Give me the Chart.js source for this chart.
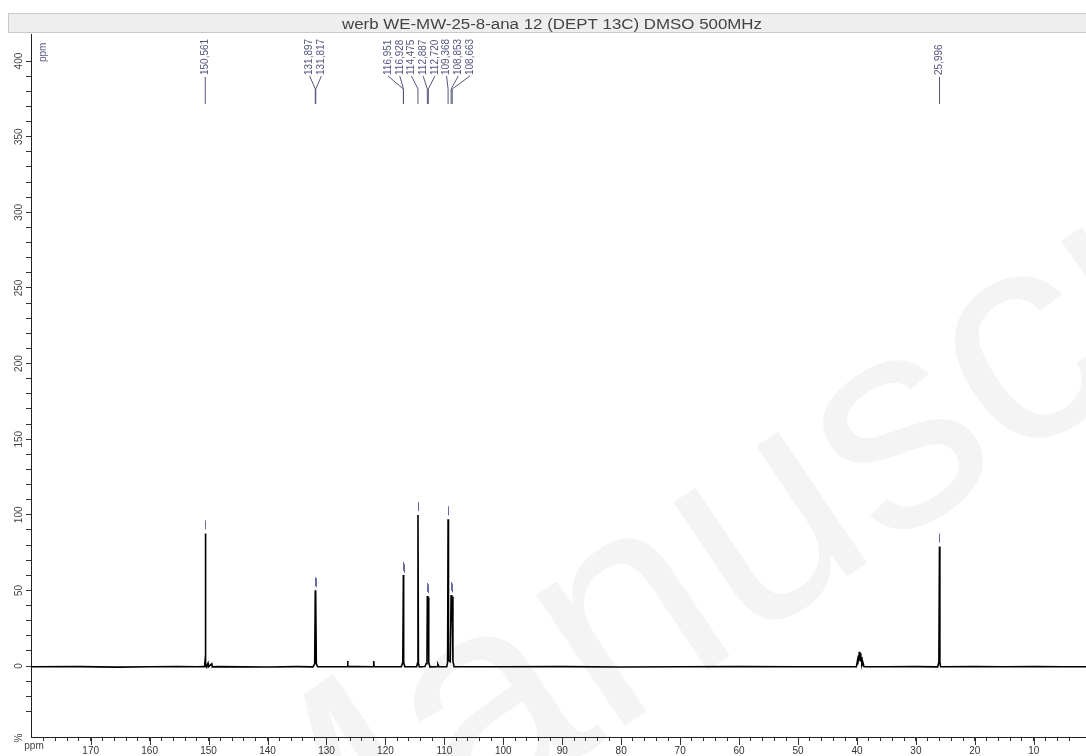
<!DOCTYPE html>
<html lang="en">
<head>
<meta charset="UTF-8">
<title>DEPT 13C spectrum</title>
<script src="https://cdn.jsdelivr.net/npm/chart.js"></script>
<style>
  html, body { margin: 0; padding: 0; background: #fff; }
  #wrap { width: 1086px; height: 756px; }
</style>
</head>
<body>
<div id="wrap"><canvas id="spec" width="1086" height="756"></canvas></div>
<script>
const titleText = "werb WE-MW-25-8-ana 12 (DEPT 13C) DMSO 500MHz";

// trace: chemical shift (ppm) and intensity (%)
const tracePpm = [
  180.13, 172.0, 165.3, 160.0, 155.2, 152.0, 151.0, 150.75, 150.65, 150.60, 150.561, 150.52, 150.45, 150.35,
  150.10, 150.02, 149.45, 149.38, 148.5, 140.0, 135.0,
  132.3, 132.0, 131.897, 131.857, 131.817, 131.72, 131.5,
  126.5, 126.42, 126.35, 125.0, 122.05, 121.98, 121.92,
  117.3, 117.05, 116.951, 116.94, 116.928, 116.85, 116.7,
  114.7, 114.55, 114.475, 114.40, 114.25, 113.3, 113.1,
  112.95, 112.887, 112.80, 112.720, 112.65, 112.45, 111.2, 111.1, 110.9,
  109.6, 109.45, 109.368, 109.30, 109.0, 108.853, 108.76, 108.663, 108.55, 108.35,
  100.0, 90.0, 80.0, 70.0, 60.0, 50.0, 40.2,
  40.10, 39.94, 39.86, 39.77, 39.69, 39.60, 39.52, 39.43, 39.35, 39.27, 39.18, 39.10, 39.02, 38.93, 38.80,
  35.0, 30.0, 26.3, 26.10, 25.996, 25.93, 25.8, 20.0, 15.0, 10.0, 5.0, 1.14
];
const traceInt = [
  -0.5, -0.4, -0.7, -0.5, -0.3, -0.5, -0.4, -0.5, 1.5, 3.5, 87.7, 3.0, 1.0, -0.5,
  1.8, -0.5, 1.5, -0.5, -0.4, -0.6, -0.4,
  -0.5, 1.5, 50.2, 30.0, 49.5, 1.5, -0.5,
  -0.5, 3.3, -0.3, -0.4, -0.5, 3.3, -0.5,
  -0.5, 2.5, 60.2, 55.0, 59.0, 2.5, -0.5,
  -0.5, 2.0, 99.8, 2.0, -0.5, -0.3, 1.5,
  2.5, 46.3, 20.0, 45.5, 2.5, -0.5, -0.4, 1.2, -0.5,
  -0.5, 2.5, 97.0, 4.0, 3.0, 47.0, 30.0, 46.0, 3.5, -0.5,
  -0.5, -0.4, -0.6, -0.5, -0.4, -0.5, -0.5,
  -0.5, 3.0, 1.0, 7.0, 3.0, 9.5, 4.0, 8.5, 3.0, 6.0, 2.0, 3.5, 1.0, 1.5, -0.5,
  -0.5, -0.4, -0.5, 2.5, 79.0, 2.5, -0.5, -0.4, -0.5, -0.4, -0.5, -0.5
];

// picked peaks with their labels
const peakPpm = [150.561, 131.897, 131.817, 116.951, 116.928, 114.475, 112.887, 112.720, 109.368, 108.853, 108.663, 25.996];
const peakTop = [87.7, 50.2, 49.5, 60.2, 59.0, 99.8, 46.3, 45.5, 97.0, 47.0, 46.0, 79.0];
const peakGroup = [0, 1, 1, 2, 2, 2, 2, 2, 2, 2, 2, 3];

const xMin = 1.14, xMax = 180.13;
const yMin = -46.9, yMax = 417.9;
const yLabelValues = [0, 50, 100, 150, 200, 250, 300, 350, 400];

const ink = '#55557f';

const decor = {
  id: 'decor',
  beforeDraw(chart) {
    const ctx = chart.ctx;
    // faint watermark
    ctx.save();
    ctx.fillStyle = '#f4f4f4';
    ctx.font = '300px Arial';
    ctx.translate(262, 971);
    ctx.rotate(-34 * Math.PI / 180);
    ctx.textAlign = 'left';
    ctx.textBaseline = 'alphabetic';
    ctx.fillText('Manuscript', 0, 0);
    ctx.restore();

    // title bar
    ctx.save();
    ctx.fillStyle = '#eeeeee';
    ctx.fillRect(8, 13, 1090, 19);
    ctx.strokeStyle = '#c8c8c8';
    ctx.lineWidth = 1;
    ctx.strokeRect(8.5, 13.5, 1090, 19);
    ctx.fillStyle = '#444';
    ctx.font = '14px Arial';
    ctx.textAlign = 'center';
    ctx.textBaseline = 'alphabetic';
    const w = ctx.measureText(titleText).width;
    ctx.translate(552, 28.5);
    ctx.scale(420 / w, 1);
    ctx.fillText(titleText, 0, 0);
    ctx.restore();
  },
  afterDraw(chart) {
    const ctx = chart.ctx;
    const xs = chart.scales.x, ys = chart.scales.y;
    const area = chart.chartArea;
    ctx.save();

    // longer major ticks on x
    ctx.strokeStyle = '#333';
    ctx.lineWidth = 1;
    ctx.beginPath();
    for (let v = 10; v <= 170; v += 10) {
      const px = Math.round(xs.getPixelForValue(v)) + 0.5;
      ctx.moveTo(px, area.bottom);
      ctx.lineTo(px, area.bottom + 8);
    }
    ctx.stroke();

    // y labels, rotated
    ctx.fillStyle = '#444';
    ctx.font = '10px Arial';
    ctx.textAlign = 'center';
    ctx.textBaseline = 'middle';
    yLabelValues.forEach(v => {
      ctx.save();
      ctx.translate(19, ys.getPixelForValue(v));
      ctx.rotate(-Math.PI / 2);
      ctx.fillText(String(v), 0, 0);
      ctx.restore();
    });
    ctx.save();
    ctx.translate(19, area.bottom + 1);
    ctx.rotate(-Math.PI / 2);
    ctx.fillText('%', 0, 0);
    ctx.restore();
    ctx.fillText('ppm', 34, area.bottom + 9);

    // ppm tag at top left
    ctx.fillStyle = ink;
    ctx.save();
    ctx.translate(43, 62);
    ctx.rotate(-Math.PI / 2);
    ctx.textAlign = 'left';
    ctx.fillText('ppm', 0, 0);
    ctx.restore();

    // peak labels with fan connectors
    const groups = {};
    peakPpm.forEach((p, i) => {
      (groups[peakGroup[i]] = groups[peakGroup[i]] || []).push(i);
    });
    ctx.strokeStyle = ink;
    Object.values(groups).forEach(idx => {
      const pxs = idx.map(i => xs.getPixelForValue(peakPpm[i]));
      const mean = pxs.reduce((a, b) => a + b, 0) / pxs.length;
      idx.forEach((i, k) => {
        const px = pxs[k];
        const lx = idx.length === 1 ? px : mean + (k - (idx.length - 1) / 2) * 11.7;
        ctx.beginPath();
        if (idx.length === 1) {
          ctx.moveTo(px, 77);
        } else {
          ctx.moveTo(lx, 76);
          ctx.lineTo(px, 89);
        }
        ctx.lineTo(px, 104);
        ctx.stroke();
        ctx.save();
        ctx.translate(lx, 75);
        ctx.rotate(-Math.PI / 2);
        ctx.textAlign = 'left';
        ctx.textBaseline = 'middle';
        ctx.fillText(peakPpm[i].toFixed(3).replace('.', ','), 0, 0);
        ctx.restore();
      });
    });

    // small marks over picked peaks
    ctx.strokeStyle = '#6b6ba3';
    peakPpm.forEach((p, i) => {
      const px = Math.round(xs.getPixelForValue(p)) + 0.5;
      const top = ys.getPixelForValue(peakTop[i]);
      ctx.beginPath();
      ctx.moveTo(px, top - 13);
      ctx.lineTo(px, top - 4);
      ctx.stroke();
    });
    ctx.restore();
  }
};

new Chart(document.getElementById('spec'), {
  type: 'line',
  data: {
    datasets: [{
      data: tracePpm.map((p, i) => ({ x: p, y: traceInt[i] })),
      borderColor: '#000',
      borderWidth: 1.6,
      pointRadius: 0,
      tension: 0,
      fill: false
    }]
  },
  options: {
    responsive: false,
    animation: false,
    devicePixelRatio: 1,
    layout: { padding: { top: 34, left: 0, right: 0, bottom: 0 } },
    plugins: { legend: { display: false }, tooltip: { enabled: false } },
    scales: {
      x: {
        type: 'linear',
        reverse: true,
        min: xMin,
        max: xMax,
        afterFit: s => { s.height = 19; },
        afterBuildTicks: s => {
          s.ticks = s.ticks.filter(t => Math.abs(t.value - 2 * Math.round(t.value / 2)) < 1e-6);
        },
        ticks: {
          stepSize: 2,
          autoSkip: false,
          minRotation: 0,
          maxRotation: 0,
          padding: 4,
          color: '#333',
          font: { family: 'Arial', size: 10 },
          callback: v => (Math.round(v) % 10 === 0 && Math.round(v) <= 170 ? String(Math.round(v)) : '')
        },
        grid: { display: true, drawOnChartArea: false, drawTicks: true, tickLength: 4, tickColor: '#333' },
        border: { display: true, color: '#222' }
      },
      y: {
        type: 'linear',
        min: yMin,
        max: yMax,
        afterFit: s => { s.width = 31; },
        afterBuildTicks: s => {
          s.ticks = s.ticks.filter(t => Math.abs(t.value - 10 * Math.round(t.value / 10)) < 1e-6);
        },
        ticks: { stepSize: 10, display: false },
        grid: { display: true, drawOnChartArea: false, drawTicks: true, tickLength: 5, tickColor: '#333' },
        border: { display: true, color: '#222' }
      }
    }
  },
  plugins: [decor]
});
</script>
</body>
</html>
